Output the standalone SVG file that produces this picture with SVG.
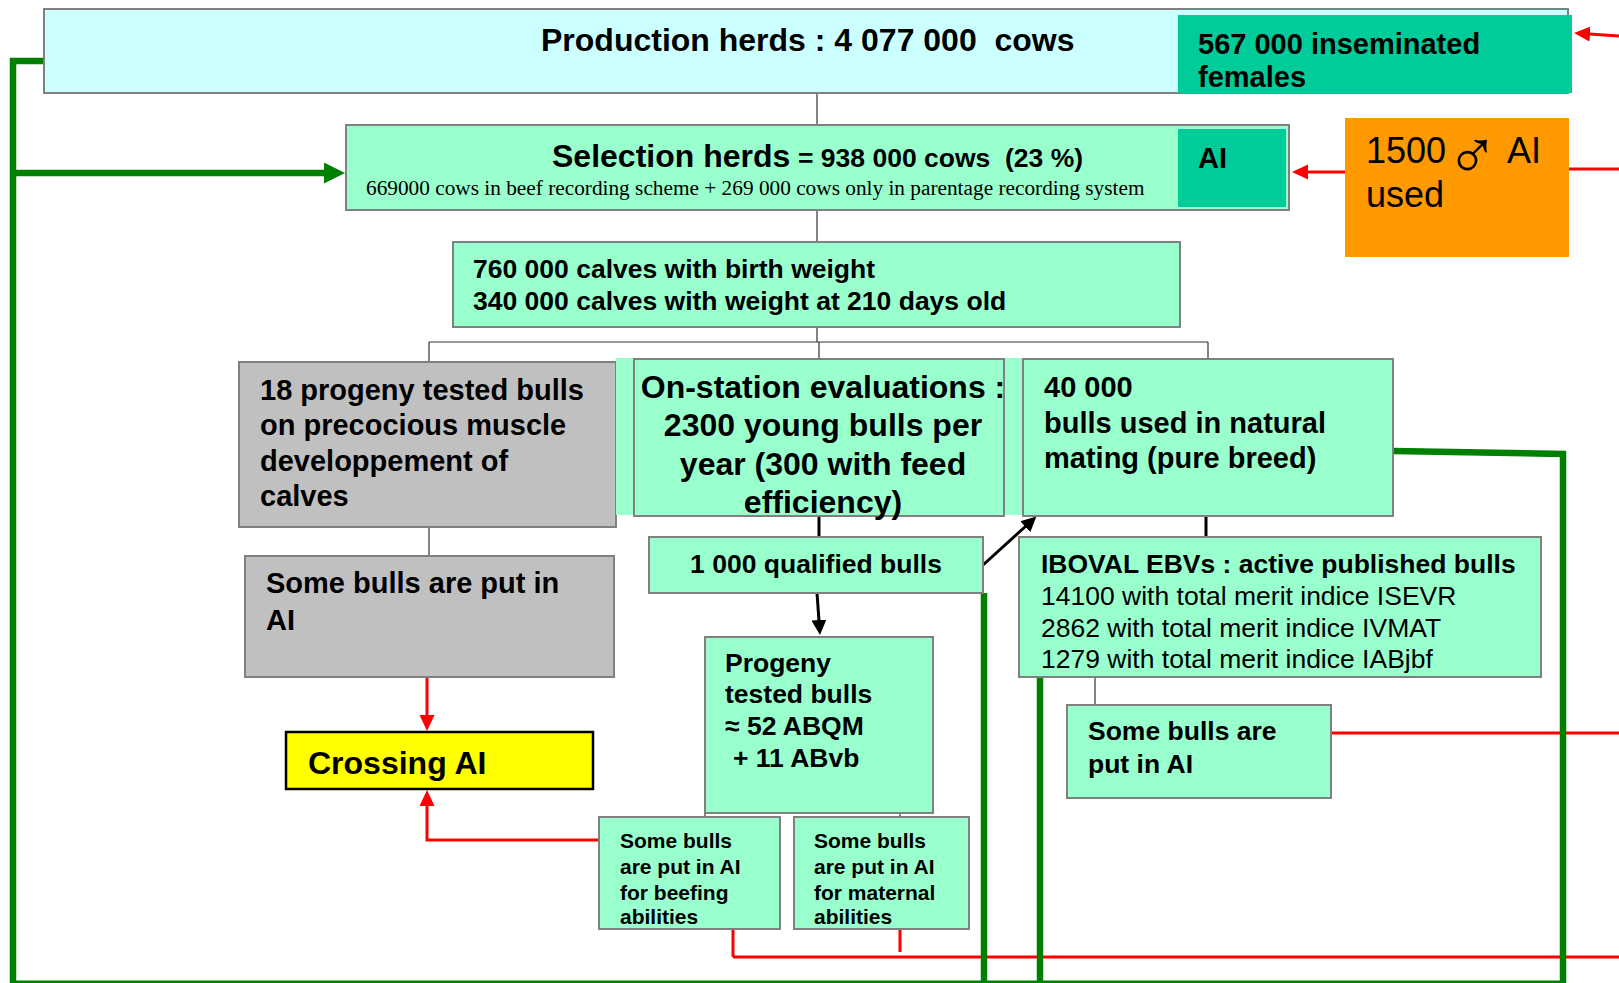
<svg xmlns="http://www.w3.org/2000/svg" width="1619" height="983" viewBox="0 0 1619 983">
<style>
.t{font-family:"Liberation Sans",Arial,sans-serif;fill:#000}
.b{font-weight:bold}
.box{stroke:#808080;stroke-width:2}
.mint{fill:#99FFCC}
.grey{fill:#C0C0C0}
.thin{stroke:#333;stroke-width:1.2;fill:none}
.blk{stroke:#000;stroke-width:3;fill:none}
.red{stroke:#FF0000;stroke-width:3;fill:none}
.grn{stroke:#008000;stroke-width:6.5;fill:none}
</style>
<defs>
<marker id="ar" markerUnits="userSpaceOnUse" markerWidth="17" markerHeight="16" refX="1" refY="7.5" orient="auto" viewBox="0 0 17 16"><path d="M0,0 L16,7.5 L0,15 z" fill="#FF0000"/></marker>
<marker id="ab" markerUnits="userSpaceOnUse" markerWidth="16" markerHeight="16" refX="1" refY="7.5" orient="auto" viewBox="0 0 16 16"><path d="M0,0 L15,7.5 L0,15 z" fill="#000"/></marker>
<marker id="ag" markerUnits="userSpaceOnUse" markerWidth="22" markerHeight="22" refX="1" refY="10.5" orient="auto" viewBox="0 0 22 22"><path d="M0,0 L21,10.5 L0,21 z" fill="#008000"/></marker>
</defs>
<rect width="1619" height="983" fill="#FFFFFF"/>

<g id="connectors">
<path class="thin" d="M817,93 V125 M817,210 V242 M817,327 V342 M429,342 H1208 M429,342 V362 M819,342 V359 M1208,342 V359 M429,527 V556 M705,813 V817 M900,813 V817 M1095,677 V705"/>
<path class="blk" d="M819,516 V537"/>
<path class="blk" d="M1206,516 V537"/>
<path class="blk" d="M817,593 L819,621" marker-end="url(#ab)"/>
<path class="blk" d="M983,565 L1026,526" marker-end="url(#ab)"/>
<path class="red" d="M1619,36 L1589,34" marker-end="url(#ar)"/>
<path class="red" d="M1345,172 L1307,172" marker-end="url(#ar)"/>
<path class="red" d="M1569,169 H1619"/>
<path class="red" d="M427,677 V716" marker-end="url(#ar)"/>
<path class="red" d="M599,840 H427 V805" marker-end="url(#ar)"/>
<path class="red" d="M733,929 V957 M900,929 V952 M733,957 H1619"/>
<path class="red" d="M1331,733 H1619"/>
<path class="grn" d="M44,61 H13 V983"/>
<path class="grn" d="M13,173 H325" marker-end="url(#ag)"/>
<path class="grn" d="M1393,451 L1563,454 V983"/>
<path class="grn" d="M984,593 V983"/>
<path class="grn" d="M1040,677 V983"/>
<path stroke="#008000" stroke-width="5" d="M10,983 H1566"/>
</g>

<g id="production">
<rect class="box" x="44" y="9" width="1524" height="84" fill="#CCFFFF"/>
<text class="t b" x="541" y="51" font-size="32" xml:space="preserve">Production herds : 4 077 000  cows</text>
</g>

<g id="inseminated">
<rect x="1178" y="15" width="394" height="78" fill="#00CC99"/>
<text class="t b" font-size="29"><tspan x="1198" y="54">567 000 inseminated</tspan><tspan x="1198" y="87">females</tspan></text>
</g>

<g id="selection">
<rect class="box mint" x="346" y="125" width="943" height="85"/>
<text class="t b" x="552" y="167" font-size="32">Selection herds</text>
<text class="t b" x="798" y="167" font-size="26.5" xml:space="preserve">= 938 000 cows  (23 %)</text>
<text x="366" y="195" font-size="21.3" font-family="'Liberation Serif','Times New Roman',serif">669000 cows in beef recording scheme + 269 000 cows only in parentage recording system</text>
<rect x="1178" y="129" width="108" height="78" fill="#00CC99"/>
<text class="t b" x="1198" y="168" font-size="29">AI</text>
</g>

<g id="ai-used">
<rect x="1345" y="118" width="224" height="139" fill="#FF9900"/>
<text class="t" font-size="36"><tspan x="1366" y="163">1500</tspan><tspan x="1507" y="163">AI</tspan><tspan x="1366" y="207">used</tspan></text>
<text class="t" x="1446" y="179" font-size="70" font-weight="100">♂</text>
</g>

<g id="calves">
<rect class="box mint" x="453" y="242" width="727" height="85"/>
<text class="t b" font-size="26.5"><tspan x="473" y="278">760 000 calves with birth weight</tspan><tspan x="473" y="310">340 000 calves with weight at 210 days old</tspan></text>
</g>

<g id="progeny-muscle">
<rect class="box grey" x="239" y="362" width="377" height="165"/>
<text class="t b" font-size="29"><tspan x="260" y="400">18 progeny tested bulls</tspan><tspan x="260" y="435">on precocious muscle</tspan><tspan x="260" y="471">developpement of</tspan><tspan x="260" y="506">calves</tspan></text>
</g>

<g id="on-station">
<rect class="mint" x="616" y="358" width="407" height="157"/>
<rect class="box mint" x="634" y="359" width="370" height="157"/>
<text class="t b" font-size="32" text-anchor="middle"><tspan x="823" y="398">On-station evaluations :</tspan><tspan x="823" y="436">2300 young bulls per</tspan><tspan x="823" y="475">year (300 with feed</tspan><tspan x="823" y="513">efficiency)</tspan></text>
</g>

<g id="natural-mating">
<rect class="box mint" x="1023" y="359" width="370" height="157"/>
<text class="t b" font-size="29"><tspan x="1044" y="397">40 000</tspan><tspan x="1044" y="433">bulls used in natural</tspan><tspan x="1044" y="468">mating (pure breed)</tspan></text>
</g>

<g id="gray-ai">
<rect class="box grey" x="245" y="556" width="369" height="121"/>
<text class="t b" font-size="29"><tspan x="266" y="593">Some bulls are put in</tspan><tspan x="266" y="630">AI</tspan></text>
</g>

<g id="crossing-ai">
<rect x="286" y="732" width="307" height="57" fill="#FFFF00" stroke="#000" stroke-width="2.5"/>
<text class="t b" x="308" y="774" font-size="32">Crossing AI</text>
</g>

<g id="qualified">
<rect class="box mint" x="649" y="537" width="334" height="56"/>
<text class="t b" x="816" y="573" font-size="26.5" text-anchor="middle">1 000 qualified bulls</text>
</g>

<g id="progeny-tested">
<rect class="box mint" x="705" y="637" width="228" height="176"/>
<text class="t b" font-size="26.5"><tspan x="725" y="672">Progeny</tspan><tspan x="725" y="703">tested bulls</tspan><tspan x="725" y="735">≈ 52 ABQM</tspan><tspan x="733" y="767">+ 11 ABvb</tspan></text>
</g>

<g id="beefing">
<rect class="box mint" x="599" y="817" width="181" height="112"/>
<text class="t b" font-size="21"><tspan x="620" y="848">Some bulls</tspan><tspan x="620" y="874">are put in AI</tspan><tspan x="620" y="900">for beefing</tspan><tspan x="620" y="924">abilities</tspan></text>
</g>

<g id="maternal">
<rect class="box mint" x="794" y="817" width="175" height="112"/>
<text class="t b" font-size="21"><tspan x="814" y="848">Some bulls</tspan><tspan x="814" y="874">are put in AI</tspan><tspan x="814" y="900">for maternal</tspan><tspan x="814" y="924">abilities</tspan></text>
</g>

<g id="iboval">
<rect class="box mint" x="1019" y="537" width="522" height="140"/>
<text class="t" font-size="26.5"><tspan x="1041" y="573" font-weight="bold">IBOVAL EBVs : active published bulls</tspan><tspan x="1041" y="605">14100 with total merit indice ISEVR</tspan><tspan x="1041" y="637">2862 with total merit indice IVMAT</tspan><tspan x="1041" y="668">1279 with total merit indice IABjbf</tspan></text>
</g>

<g id="natural-ai">
<rect class="box mint" x="1067" y="705" width="264" height="93"/>
<text class="t b" font-size="26.5"><tspan x="1088" y="740">Some bulls are</tspan><tspan x="1088" y="773">put in AI</tspan></text>
</g>
</svg>
